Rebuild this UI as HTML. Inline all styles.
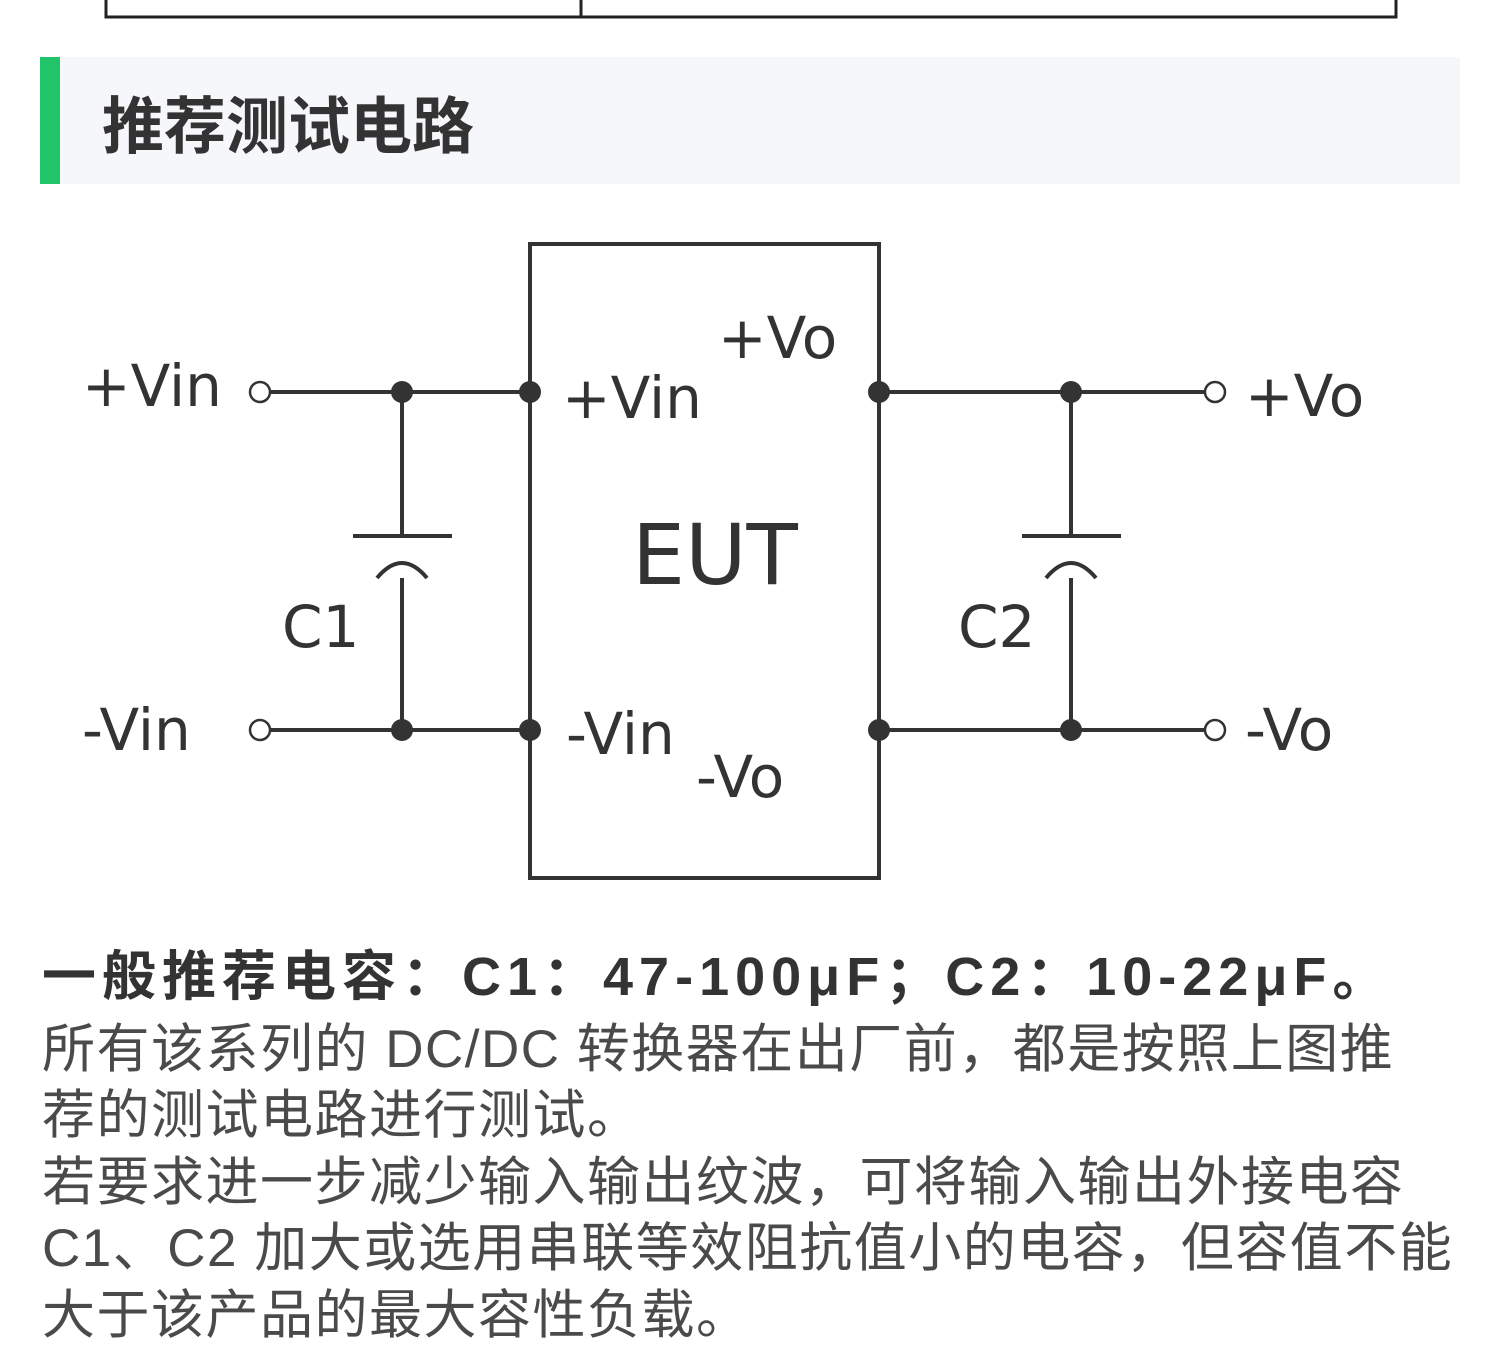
<!DOCTYPE html>
<html><head><meta charset="utf-8"><style>
body{margin:0;width:1500px;height:1346px;background:#fff;overflow:hidden;position:relative;font-family:"Liberation Sans","Noto Sans CJK SC",sans-serif}
.t{position:absolute;left:42px;font-size:53px;letter-spacing:1.5px;color:#4a4a4a;white-space:nowrap;line-height:1}
</style></head><body>
<svg width="1500" height="1346" style="position:absolute;left:0;top:0" font-family="'DejaVu Sans',sans-serif">
<path d="M106 0V17H1396V0M581 0V17" fill="none" stroke="#222" stroke-width="3"/>
<rect x="40" y="57" width="1420" height="127" fill="#f5f7fa"/>
<rect x="40" y="57" width="20" height="127" fill="#22c46a"/>
<text x="102" y="148" font-size="62" font-weight="bold" fill="#333" font-family="'Noto Sans CJK SC',sans-serif">推荐测试电路</text>
<g stroke="#333" stroke-width="4" fill="none">
<rect x="530" y="244" width="349" height="634"/>
<path d="M270 392H530M270 730H530M402 392V536M402 578V730M353 536H452"/>
<path d="M377 578Q402 548 427 578"/>
<path d="M879 392H1205M879 730H1205M1071 392V536M1071 578V730M1022 536H1121"/>
<path d="M1046 578Q1071 548 1096 578"/>
</g>
<g stroke="#333" stroke-width="2.5" fill="#fff">
<circle cx="260" cy="392" r="10"/><circle cx="260" cy="730" r="10"/>
<circle cx="1215" cy="392" r="10"/><circle cx="1215" cy="730" r="10"/>
</g>
<g fill="#333">
<circle cx="402" cy="392" r="11"/><circle cx="402" cy="730" r="11"/>
<circle cx="530" cy="392" r="11"/><circle cx="530" cy="730" r="11"/>
<circle cx="879" cy="392" r="11"/><circle cx="879" cy="730" r="11"/>
<circle cx="1071" cy="392" r="11"/><circle cx="1071" cy="730" r="11"/>
</g>
<g fill="#333" font-size="58">
<text x="82" y="406">+Vin</text>
<text x="82" y="750">-Vin</text>
<text x="562" y="418">+Vin</text>
<text x="566" y="754">-Vin</text>
<text x="718" y="358">+Vo</text>
<text x="696" y="797">-Vo</text>
<text x="1245" y="416">+Vo</text>
<text x="1245" y="750">-Vo</text>
<text x="282" y="647">C1</text>
<text x="958" y="647">C2</text>
<text x="632" y="584" font-size="84">EUT</text>
</g>
</svg>
<div class="t" style="top:950px;font-weight:bold;color:#333;font-size:54px;letter-spacing:6px">一般推荐电容：C1：47-100μF；C2：10-22μF。</div>
<div class="t" style="top:1023px">所有该系列的 DC/DC 转换器在出厂前，都是按照上图推</div>
<div class="t" style="top:1089px">荐的测试电路进行测试。</div>
<div class="t" style="top:1156px">若要求进一步减少输入输出纹波，可将输入输出外接电容</div>
<div class="t" style="top:1222px">C1、C2 加大或选用串联等效阻抗值小的电容，但容值不能</div>
<div class="t" style="top:1289px">大于该产品的最大容性负载。</div>
</body></html>
